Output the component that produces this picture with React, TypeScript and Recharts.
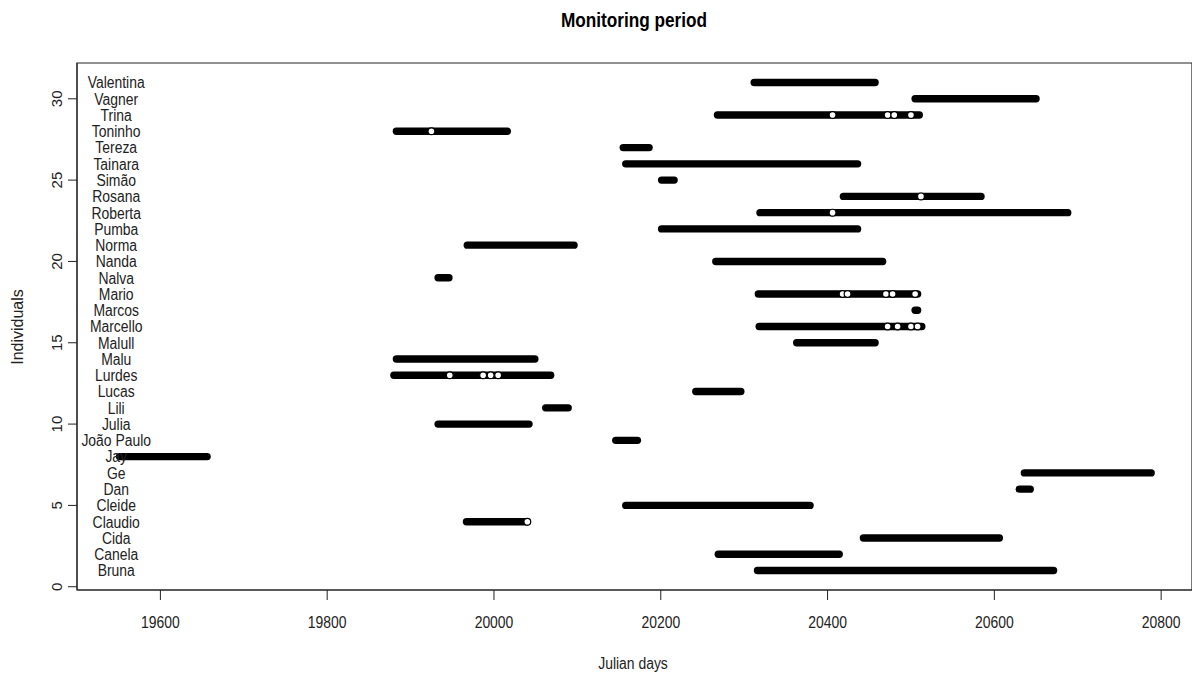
import { ComposedChart, Line, Scatter, XAxis, YAxis, ReferenceArea } from 'recharts'

// individuals, bottom (y = 1) to top (y = 31)
const names = [
  'Bruna', 'Canela', 'Cida', 'Claudio', 'Cleide', 'Dan', 'Ge', 'Jay', 'João Paulo', 'Julia',
  'Lili', 'Lucas', 'Lurdes', 'Malu', 'Malull', 'Marcello', 'Marcos', 'Mario', 'Nalva', 'Nanda',
  'Norma', 'Pumba', 'Roberta', 'Rosana', 'Simão', 'Tainara', 'Tereza', 'Toninho', 'Trina', 'Vagner',
  'Valentina',
]

// first and last julian day of monitoring for each individual
const startDay = [
  20316, 20269, 20443, 19967, 20158, 20630, 20636, 19551, 20146, 19933,
  20062, 20242, 19880, 19883, 20363, 20318, 20505, 20317, 19933, 20266,
  19968, 20201, 20319, 20419, 20201, 20158, 20155, 19883, 20268, 20505,
  20312,
]
const endDay = [
  20671, 20414, 20606, 20040, 20379, 20643, 20788, 19656, 20172, 20042,
  20089, 20296, 20068, 20049, 20457, 20513, 20508, 20508, 19946, 20466,
  20096, 20436, 20688, 20584, 20216, 20436, 20186, 20016, 20510, 20650,
  20457,
]

// open-circle fixes drawn on top of the tracks
const openDay = [20406, 20472, 20480, 20500, 20418, 20424, 20470, 20478, 20505, 20472, 20484, 20500, 20508, 19947, 19987, 19996, 20005, 19925, 20512, 20040, 20406]
const openRow = [29, 29, 29, 29, 18, 18, 18, 18, 18, 16, 16, 16, 16, 13, 13, 13, 13, 28, 24, 4, 23]

const xTicks = [19600, 19800, 20000, 20200, 20400, 20600, 20800]
const yTicks = [0, 5, 10, 15, 20, 25, 30]
const nameX = 19547

const FONT = '"Liberation Sans", Arial, sans-serif'
const NARROW = 0.87

const labelRows = names.map((name, i) => ({ x: nameX, y: i + 1, name }))
const openPts = openDay.map((d, i) => ({ x: d, y: openRow[i] }))

const NameLabel = (props: any) => (
  <text
    transform={`translate(${props.cx}, ${props.cy}) scale(${NARROW}, 1)`}
    x={0}
    y={0}
    textAnchor="middle"
    dominantBaseline="central"
    fontFamily={FONT}
    fontSize={16}
    fill="#222"
  >
    {props.payload.name}
  </text>
)

const OpenDot = (props: any) => (
  <circle cx={props.cx} cy={props.cy} r={3.4} fill="#fff" stroke="#000" strokeWidth={1.2} />
)

const XTick = ({ x, y, payload }: any) => (
  <text
    transform={`translate(${x}, ${y}) scale(${NARROW}, 1)`}
    x={0}
    y={0}
    dy="0.71em"
    textAnchor="middle"
    fontFamily={FONT}
    fontSize={16}
    fill="#222"
  >
    {payload.value}
  </text>
)

const YTick = ({ x, y, payload }: any) => (
  <text
    transform={`translate(${x}, ${y}) rotate(-90)`}
    x={0}
    y={0}
    textAnchor="middle"
    fontFamily={FONT}
    fontSize={15}
    fill="#222"
  >
    {payload.value}
  </text>
)

export default function App() {
  return (
    <div style={{ position: 'absolute', left: 0, top: 0, width: 1192, height: 677, background: '#fff' }}>
      <ComposedChart
        width={1192}
        height={677}
        margin={{ top: 63, right: 0, bottom: 0, left: 0 }}
        style={{ position: 'absolute', left: 0, top: 0 }}
      >
        <XAxis
          type="number"
          dataKey="x"
          domain={[19500, 20837]}
          allowDataOverflow
          ticks={xTicks}
          height={87}
          tickSize={10}
          tickMargin={17}
          stroke="#222"
          tick={<XTick />}
        />
        <YAxis
          type="number"
          dataKey="y"
          domain={[-0.2, 32.2]}
          allowDataOverflow
          ticks={yTicks}
          width={77}
          tickSize={9}
          tickMargin={6}
          stroke="#222"
          tick={<YTick />}
        />
        <ReferenceArea x1={19500} x2={20837} y1={-0.2} y2={32.2} fill="none" stroke="#222" strokeWidth={1.2} />
        <Scatter data={labelRows} shape={<NameLabel />} isAnimationActive={false} />
        {names.map((name, i) => (
          <Line
            key={name}
            data={[
              { x: startDay[i], y: i + 1 },
              { x: endDay[i], y: i + 1 },
            ]}
            dataKey="y"
            stroke="#000"
            strokeWidth={7.4}
            strokeLinecap="round"
            dot={false}
            activeDot={false}
            isAnimationActive={false}
          />
        ))}
        <Scatter data={openPts} shape={<OpenDot />} isAnimationActive={false} />
      </ComposedChart>
      <div
        style={{
          position: 'absolute', left: 634, top: 20, transform: `translate(-50%, -50%) scaleX(0.86)`,
          fontFamily: FONT, fontWeight: 'bold', fontSize: 20, color: '#000', whiteSpace: 'nowrap',
        }}
      >
        Monitoring period
      </div>
      <div
        style={{
          position: 'absolute', left: 633, top: 664, transform: `translate(-50%, -50%) scaleX(${NARROW})`,
          fontFamily: FONT, fontSize: 16, color: '#222', whiteSpace: 'nowrap',
        }}
      >
        Julian days
      </div>
      <div
        style={{
          position: 'absolute', left: 18, top: 327, transform: 'translate(-50%, -50%) rotate(-90deg)',
          fontFamily: FONT, fontSize: 16, color: '#222', whiteSpace: 'nowrap',
        }}
      >
        Individuals
      </div>
    </div>
  )
}
